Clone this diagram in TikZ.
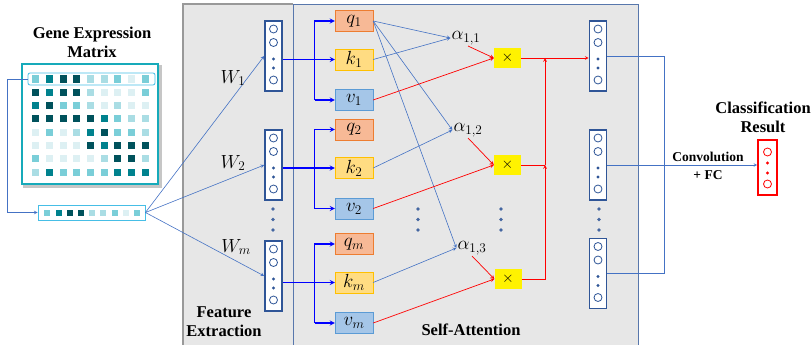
\RequirePackage{fix-cm}
\documentclass[tikz,border=0pt]{standalone}
\usepackage{fontspec}
\setmainfont{Liberation Serif}
\definecolor{lnblue}{RGB}{68,114,196}
\definecolor{vecblue}{RGB}{47,85,151}
\definecolor{panelgray}{RGB}{231,231,231}
\definecolor{teal0}{RGB}{221,240,243}
\definecolor{teal1}{RGB}{170,221,228}
\definecolor{teal2}{RGB}{122,206,216}
\definecolor{teal3}{RGB}{0,130,142}
\definecolor{teal4}{RGB}{0,82,92}
\definecolor{framecol}{RGB}{22,170,186}
\definecolor{rowcol}{RGB}{70,190,230}
\definecolor{qfill}{RGB}{247,185,150}
\definecolor{qdraw}{RGB}{237,125,49}
\definecolor{kfill}{RGB}{255,220,130}
\definecolor{kdraw}{RGB}{255,192,0}
\definecolor{vfill}{RGB}{165,198,232}
\definecolor{vdraw}{RGB}{91,155,213}
\begin{document}
\begin{tikzpicture}[>=stealth, x=1pt, y=-1pt,
    lab/.style={font=\bfseries\fontsize{16.5}{19}\selectfont, align=center},
    small lab/.style={font=\bfseries\fontsize{13.5}{15}\selectfont},
    mlab/.style={font=\fontsize{19}{21}\selectfont, inner sep=1pt},
    vecbox/.style={draw=vecblue, line width=1.6pt, fill=white, minimum width=17pt, minimum height=70pt, inner sep=0pt},
    qbox/.style={draw=qdraw, fill=qfill, minimum width=38pt, minimum height=21pt, inner sep=0pt, font=\fontsize{19}{21}\selectfont},
    kbox/.style={qbox, draw=kdraw, fill=kfill},
    vbox/.style={qbox, draw=vdraw, fill=vfill},
    mulbox/.style={fill=yellow, minimum width=27pt, minimum height=20pt, inner sep=0pt, font=\fontsize{15}{16}\selectfont},
    link/.style={lnblue, line width=0.6pt},
    fan/.style={blue, line width=1.2pt},
    attn/.style={red, line width=0.7pt}]
\useasboundingbox (0,0) rectangle (811,345);

% panels
\fill[panelgray] (183,4) rectangle (638,345);
\draw[gray!80, line width=1.2pt] (183,345) -- (183,4) -- (293,4);
\draw[vecblue!80, line width=0.8pt] (293,345) -- (293,4) -- (638,4) -- (638,345);
\node[lab] (fe) at (224,322) {Feature\\Extraction};
\node[lab] (sa) at (471,330) {Self-Attention};

% gene expression matrix
\node[lab] (gt) at (92,42) {Gene Expression\\Matrix};
\fill[gray!45] (23,65) rectangle (162,188);
\node[draw=framecol, line width=2.4pt, fill=white, minimum width=136pt, minimum height=120pt] (mat) at (90,124) {};
\foreach \row [count=\r] in {{2,3,4,4,1,1,2,0,2},{4,3,4,4,1,0,0,0,2},{3,4,2,2,1,0,1,0,0},{4,4,4,4,4,3,2,1,1},
    {0,2,0,1,3,4,2,2,1},{0,0,0,0,4,3,4,4,4},{2,0,0,0,0,1,4,4,1},{1,3,2,2,2,2,3,3,3}}
{
    \foreach \lv [count=\c] in \row
        \fill[teal\lv] ({35.7+13.7*(\c-1)-3.5},{79+13.3*(\r-1)-3.5}) rectangle ++(7,7);
}
\node[draw=rowcol, line width=0.8pt, rounded corners=2pt, minimum width=127pt, minimum height=12pt] (hl) at (91.5,79) {};
\node[draw=rowcol, line width=0.9pt, minimum width=107pt, minimum height=15pt] (inp) at (91.5,212.5) {};
\foreach \lv [count=\c] in {2,3,4,4,1,1,2,0,2}
    \fill[teal\lv] ({47.3+11.2*(\c-1)-3},209.5) rectangle ++(6,6);
\draw[link,->] (hl.west) -- ++(-20,0) |- (inp.west);

% feature vectors
\node[vecbox] (f1) at (273.5,56) {};
\node[vecbox] (f2) at (273.5,165) {};
\node[vecbox] (fm) at (273.5,276) {};
\draw[link,->] (inp.east) -- (f1.west);
\draw[link,->] (inp.east) -- (f2.west);
\draw[link,->] (inp.east) -- (fm.west);
\node[mlab] (w1) at (233,78) {$W_1$};
\node[mlab] (w2) at (233,163) {$W_2$};
\node[mlab] (wm) at (236,247) {$W_m$};

% queries, keys, values
\foreach \i/\y in {1/21, 2/129.5, m/244}
{
    \node[qbox] (q\i) at (354,\y) {$q_\i$};
    \node[kbox] (k\i) at (354,\y+38.5) {$k_\i$};
    \node[vbox] (v\i) at (354,\y+79) {$v_\i$};
    \draw[fan,->] (f\i.east |- k\i.west) -- (k\i.west);
    \draw[fan,->] ([xshift=-20pt]v\i.west) |- (q\i.west);
    \draw[fan,->] ([xshift=-20pt]v\i.west) -- (v\i.west);
}

% attention weights
\node[mlab] (a1) at (466,38) {$\alpha_{1,1}$};
\node[mlab] (a2) at (468,130) {$\alpha_{1,2}$};
\node[mlab] (a3) at (472,248) {$\alpha_{1,3}$};
\node[mulbox] (x1) at (507.5,58) {$\times$};
\node[mulbox] (x2) at (507.5,165) {$\times$};
\node[mulbox] (x3) at (508,279) {$\times$};
\draw[link,->] (q1.east) -- (a1.west);
\draw[link,->] (k1.east) -- (a1.west);
\draw[link,->] (q1.east) -- (a2.west);
\draw[link,->] (k2.east) -- (a2.west);
\draw[link,->] (q1.east) -- (a3.west);
\draw[link,->] (km.east) -- (a3.west);
\draw[attn,->] ([xshift=2pt]a1.south) -- (x1.west);
\draw[attn,->] (a2.south) -- (x2.west);
\draw[attn,->] (a3.south) -- (x3.west);
\draw[attn,->] (v1.east) -- (x1.west);
\draw[attn,->] (v2.east) -- (x2.west);
\draw[attn,->] (vm.east) -- (x3.west);

% outputs of self-attention
\node[vecbox] (o1) at (598,56) {};
\node[vecbox] (o2) at (598,165) {};
\node[vecbox] (o3) at (598,273.5) {};
\coordinate (bus) at (545,0);
\draw[attn,->] (x1.east) -- (x1.east -| o1.west);
\draw[attn] (x2.east) -- (bus |- x2.east);
\draw[attn,->] (x3.east) -| (bus |- x2.east);
\draw[attn,->] (bus |- x2.east) -- (bus |- x1.east);

% dots inside the vectors
\foreach \v in {f1,f2,fm,o1,o2,o3}
{
    \foreach \dy in {-27,-13.5,24}
        \draw[vecblue, line width=0.8pt] (\v.center) ++(0,\dy) circle (4);
    \foreach \dy in {3,12}
        \fill[vecblue] (\v.center) ++(0,\dy) circle (1.6);
}
% vertical ellipses
\foreach \x in {273,418,501,599}
    \foreach \y in {209,219.5,230}
        \fill[vecblue!90] (\x,\y) circle (1.9);

% classification
\coordinate (merge) at (664,0);
\node[draw=red, line width=1.6pt, fill=white, minimum width=19pt, minimum height=55pt] (res) at (767.5,167.5) {};
\foreach \dy in {-15.5,16.5}
    \draw[red, line width=0.8pt] (res.center) ++(0,\dy) circle (4);
\foreach \dy in {-4.5,5.5}
    \fill[red] (res.center) ++(0,\dy) circle (1.6);
\draw[link] (o1.east) -| (merge |- o3.east) -- (o3.east);
\draw[link,->] (o2.east) -- (o2.east -| res.west);
\node[small lab] (conv) at (708,157) {Convolution};
\node[small lab] (fc) at (708,175) {+ FC};
\node[lab] (cr) at (763,117) {Classification\\Result};
\end{tikzpicture}
\end{document}
